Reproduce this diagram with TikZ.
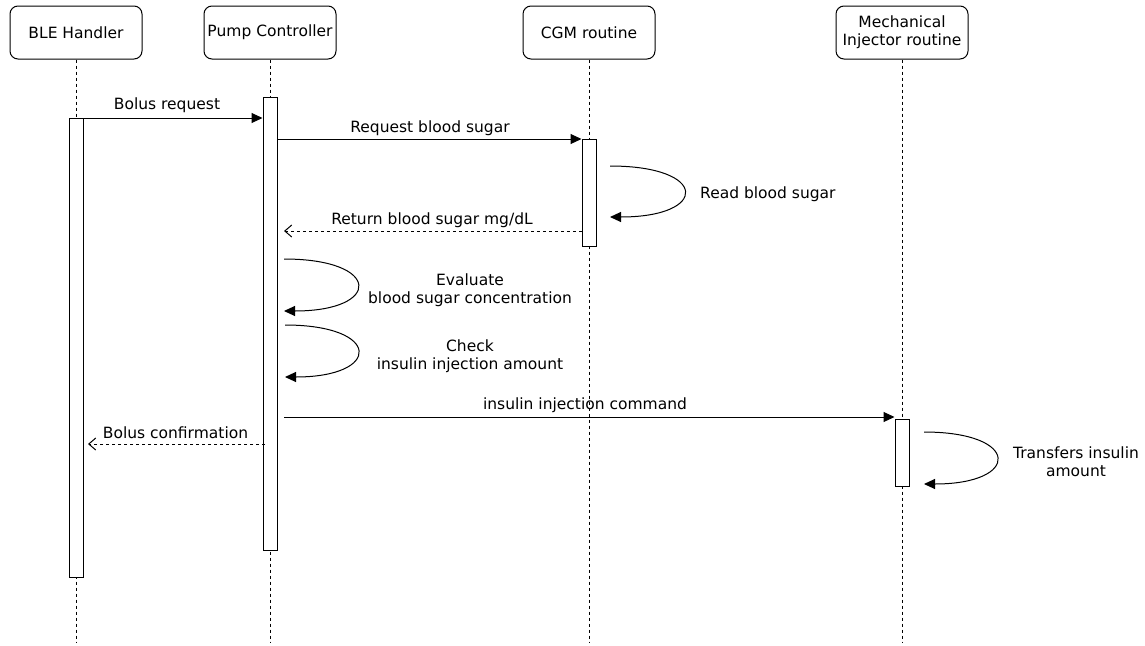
\documentclass[tikz,border=0pt]{standalone}
\usepackage{fontspec}
\setmainfont{DejaVu Sans}
\usetikzlibrary{arrows.meta}
\begin{document}
\begin{tikzpicture}[x=1pt,y=-1pt,
  head/.style={draw, line width=1pt, rounded corners=8pt, minimum width=132pt, minimum height=53pt, inner sep=0pt, align=center, font=\fontsize{15.5}{18}\selectfont},
  life/.style={line width=1pt, dash pattern=on 3pt off 3pt},
  bar/.style={draw, fill=white, line width=1pt, minimum width=14pt, inner sep=0pt, anchor=north},
  msg/.style={line width=1pt, -{Triangle[length=11pt,width=10pt]}},
  ret/.style={line width=1pt, dash pattern=on 3pt off 3pt, -{Straight Barb[length=7pt,width=12pt]}},
  lbl/.style={font=\fontsize{15.5}{18}\selectfont, inner sep=0pt, align=center},
]
\useasboundingbox (0,0) rectangle (1145,645);
% heads
\node[head] (h1) at (76,32.5) {BLE Handler};
\node[head] (h2) at (270,32.5) {Pump Controller};
\node[head] (h3) at (589,32.5) {CGM routine};
\node[head] (h4) at (902,32.5) {Mechanical\\Injector routine};
% lifeline ends
\coordinate (e1) at (76,643);
\coordinate (e2) at (270,643);
\coordinate (e3) at (589,643);
\coordinate (e4) at (902,643);
\draw[life] (h1.south) -- (e1);
\draw[life] (h2.south) -- (e2);
\draw[life] (h3.south) -- (e3);
\draw[life] (h4.south) -- (e4);
% activation bars
\node[bar, minimum height=459pt] (b1) at (76,118) {};
\node[bar, minimum height=453pt] (b2) at (270,97) {};
\node[bar, minimum height=107pt] (b3) at (589,139) {};
\node[bar, minimum height=67pt] (b4) at (902,419) {};
% messages
\draw[msg] (b1.north) -- (b2.west |- b1.north);
\node[lbl, anchor=base] (l1) at (167,109.5) {Bolus request};
\draw[msg] (b2.east |- b3.north) -- (b3.north west);
\node[lbl, anchor=base] (l2) at (430,132) {Request blood sugar};
\coordinate (r1s) at (610,166);
\coordinate (r1e) at (610,217);
\draw[msg] (r1s) .. controls +(99,0) and +(99,0) .. (r1e);
\node[lbl, anchor=base west] (l3) at (700,198) {Read blood sugar};
\coordinate (rt) at (284,231);
\draw[ret] (b3.west |- rt) -- (rt);
\node[lbl, anchor=base] (l4) at (432,224) {Return blood sugar mg/dL};
\coordinate (ev1) at (284,259);
\coordinate (ev2) at (284,311);
\draw[msg] (ev1) .. controls +(98,0) and +(98,0) .. (ev2);
\node[lbl, anchor=base] (l5) at (470,303) {Evaluate\\blood sugar concentration};
\coordinate (ck1) at (285,325);
\coordinate (ck2) at (285,377);
\draw[msg] (ck1) .. controls +(97,0) and +(97,0) .. (ck2);
\node[lbl, anchor=base] (l6) at (470,369) {Check\\insulin injection amount};
\coordinate (ic) at (284,417);
\draw[msg] (ic) -- (b4.west |- ic);
\node[lbl, anchor=base] (l7) at (585,409) {insulin injection command};
\coordinate (bc1) at (265,444);
\coordinate (bc2) at (88,444);
\draw[ret] (bc1) -- (bc2);
\node[lbl, anchor=base] (l8) at (175.5,438) {Bolus confirmation};
\coordinate (tr1) at (924,432);
\coordinate (tr2) at (924,484);
\draw[msg] (tr1) .. controls +(97,0) and +(97,0) .. (tr2);
\node[lbl, anchor=base] (l9) at (1076,476) {Transfers insulin\\amount};
\end{tikzpicture}
\end{document}
